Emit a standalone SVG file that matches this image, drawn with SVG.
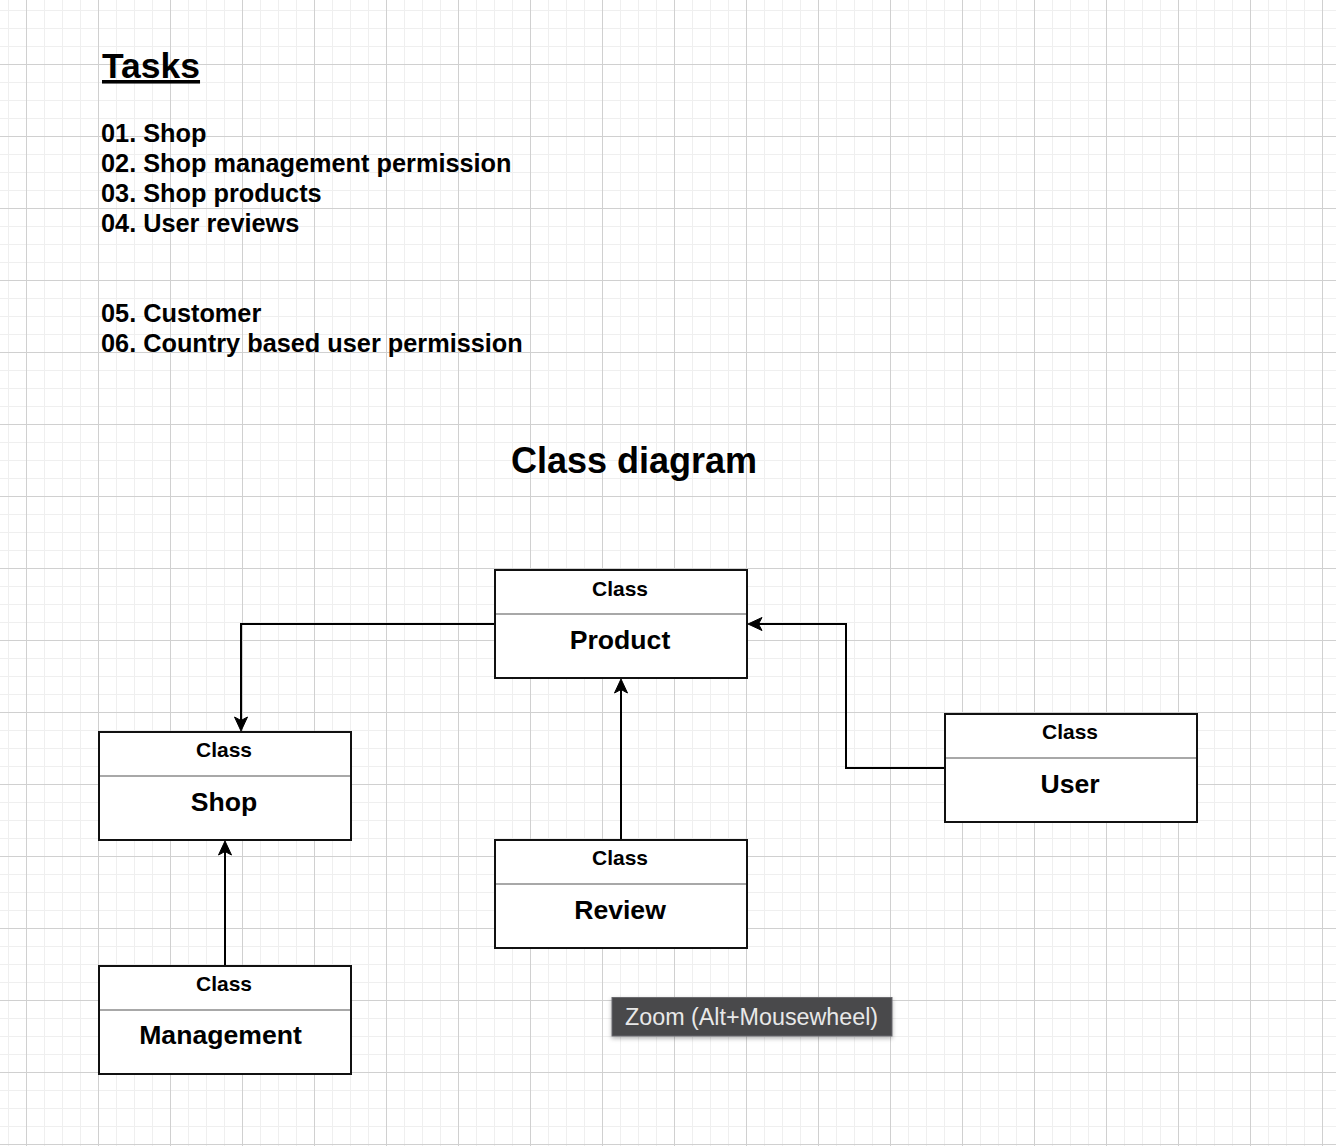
<svg xmlns="http://www.w3.org/2000/svg" width="1336" height="1146" viewBox="0 0 1336 1146">
<defs>
<pattern id="grid" x="26" y="64" width="72" height="72" patternUnits="userSpaceOnUse">
<path d="M18.5,0V72M36.5,0V72M54.5,0V72M0,18.5H72M0,36.5H72M0,54.5H72" stroke="#efefef" stroke-width="1" fill="none"/>
<path d="M0.5,0V72M0,0.5H72" stroke="#d0d0d0" stroke-width="1" fill="none"/>
</pattern>
<path id="ah" d="M0,0L-14,-6.5L-10.5,0L-14,6.5Z"/>
<filter id="sh" x="-10%" y="-30%" width="120%" height="180%">
<feDropShadow dx="0" dy="2" stdDeviation="2" flood-color="#000" flood-opacity="0.3"/>
</filter>
</defs>
<style>
text{font-family:"Liberation Sans",Arial,Helvetica,sans-serif;font-weight:bold;fill:#000}
.box{fill:#fff;stroke:#111;stroke-width:2}
.div{stroke:#a8a8a8;stroke-width:2}
.cls{font-size:21px;text-anchor:middle}
.nm{font-size:26.6px;text-anchor:middle}
.task{font-size:25.3px}
.edge{fill:none;stroke:#000;stroke-width:2}
.head{fill:#000;stroke:#000;stroke-width:1;stroke-linejoin:miter}
</style>
<rect width="1336" height="1146" fill="#fff"/>
<rect width="1336" height="1146" fill="url(#grid)"/>

<g id="tasks">
<text x="102" y="78" font-size="35.5" text-decoration="underline">Tasks</text>
<text class="task" x="101" y="141.5">01. Shop</text>
<text class="task" x="101" y="171.5">02. Shop management permission</text>
<text class="task" x="101" y="201.5">03. Shop products</text>
<text class="task" x="101" y="231.5">04. User reviews</text>
<text class="task" x="101" y="321.5">05. Customer</text>
<text class="task" x="101" y="351.5">06. Country based user permission</text>
</g>

<g id="title">
<text x="634" y="473" font-size="36" text-anchor="middle">Class diagram</text>
</g>

<g id="connectors">
<path class="edge" d="M495,624H241V722"/>
<use href="#ah" class="head" transform="translate(241,731) rotate(90)"/>
<path class="edge" d="M945,768H846V624H757"/>
<use href="#ah" class="head" transform="translate(748,624) rotate(180)"/>
<path class="edge" d="M621,840V688"/>
<use href="#ah" class="head" transform="translate(621,679) rotate(-90)"/>
<path class="edge" d="M225,966V850"/>
<use href="#ah" class="head" transform="translate(225,841) rotate(-90)"/>
</g>

<g id="product">
<rect class="box" x="495" y="570" width="252" height="108"/>
<line class="div" x1="496" y1="614" x2="746" y2="614"/>
<text class="cls" x="620" y="596">Class</text>
<text class="nm" x="620" y="649">Product</text>
</g>

<g id="shop">
<rect class="box" x="99" y="732" width="252" height="108"/>
<line class="div" x1="100" y1="776" x2="350" y2="776"/>
<text class="cls" x="224" y="757">Class</text>
<text class="nm" x="224" y="811">Shop</text>
</g>

<g id="user">
<rect class="box" x="945" y="714" width="252" height="108"/>
<line class="div" x1="946" y1="758" x2="1196" y2="758"/>
<text class="cls" x="1070" y="739">Class</text>
<text class="nm" x="1070" y="793">User</text>
</g>

<g id="review">
<rect class="box" x="495" y="840" width="252" height="108"/>
<line class="div" x1="496" y1="884" x2="746" y2="884"/>
<text class="cls" x="620" y="865">Class</text>
<text class="nm" x="620" y="919">Review</text>
</g>

<g id="management">
<rect class="box" x="99" y="966" width="252" height="108"/>
<line class="div" x1="100" y1="1010" x2="350" y2="1010"/>
<text class="cls" x="224" y="991">Class</text>
<text class="nm" x="220.5" y="1044">Management</text>
</g>

<g id="tooltip">
<rect x="612" y="997.5" width="280" height="38.5" fill="#48484c" stroke="#6a6a6e" stroke-width="1" filter="url(#sh)"/>
<text x="625" y="1024.5" font-size="23.3" style="font-weight:normal;fill:#e8e8e8">Zoom (Alt+Mousewheel)</text>
</g>
</svg>
